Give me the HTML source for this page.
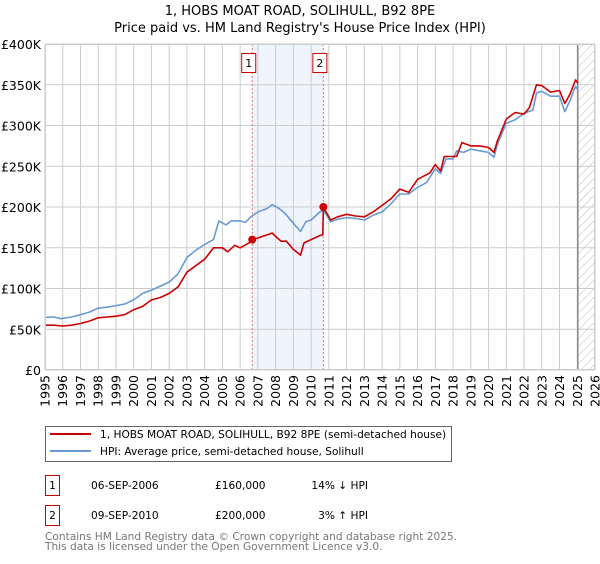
<!DOCTYPE html>
<html><head><meta charset="utf-8"><style>
body{margin:0;background:#fff;font-family:"DejaVu Sans","Liberation Sans",sans-serif;}
svg text{font-family:"DejaVu Sans","Liberation Sans",sans-serif;}
</style></head><body>
<svg id="chart" width="600" height="560" viewBox="0 0 600 560" xmlns="http://www.w3.org/2000/svg">
<defs><pattern id="hatch" width="6" height="6" patternUnits="userSpaceOnUse" patternTransform="rotate(45)"><line x1="0" y1="0" x2="0" y2="6" stroke="#bbb" stroke-width="1"/></pattern></defs>
<text x="300" y="15" text-anchor="middle" font-size="13">1, HOBS MOAT ROAD, SOLIHULL, B92 8PE</text>
<text x="300" y="32" text-anchor="middle" font-size="13">Price paid vs. HM Land Registry's House Price Index (HPI)</text>
<g id="grid"></g><g id="marks"></g><g id="axes"></g>
<rect x="45.5" y="426.5" width="406" height="35" fill="#fff" stroke="#666"/>
<line x1="50" y1="434" x2="91" y2="434" stroke="#cc0000" stroke-width="2"/>
<text x="100" y="438" font-size="10.6">1, HOBS MOAT ROAD, SOLIHULL, B92 8PE (semi-detached house)</text>
<line x1="50" y1="451" x2="91" y2="451" stroke="#6a9ad4" stroke-width="2"/>
<text x="100" y="455" font-size="10.6">HPI: Average price, semi-detached house, Solihull</text>
<g font-size="10.6">
<rect x="45.5" y="475.5" width="14" height="20" fill="#fff" stroke="#cc0000"/><text x="52.5" y="489" text-anchor="middle">1</text>
<text x="91" y="489">06-SEP-2006</text><text x="215" y="489">£160,000</text><text x="368" y="489" text-anchor="end">14% ↓ HPI</text></g>
<g font-size="10.6">
<rect x="45.5" y="505.5" width="14" height="20" fill="#fff" stroke="#cc0000"/><text x="52.5" y="519" text-anchor="middle">2</text>
<text x="91" y="519">09-SEP-2010</text><text x="215" y="519">£200,000</text><text x="368" y="519" text-anchor="end">3% ↑ HPI</text></g>
<text x="45" y="540" font-size="10.6" fill="#777">Contains HM Land Registry data © Crown copyright and database right 2025.</text>
<text x="45" y="550" font-size="10.6" fill="#777">This data is licensed under the Open Government Licence v3.0.</text>
</svg>
<script>
const hpiYears=[1995,1995.5,1995.9,1996.5,1997,1997.5,1998,1998.5,1999,1999.5,2000,2000.5,2001,2001.5,2002,2002.5,2003,2003.5,2004,2004.5,2004.8,2005.2,2005.5,2006,2006.3,2006.6,2007,2007.5,2007.8,2008.2,2008.5,2009,2009.4,2009.7,2010,2010.5,2010.7,2011.1,2011.5,2012,2012.5,2013,2013.5,2014,2014.5,2015,2015.5,2016,2016.5,2017,2017.3,2017.6,2018,2018.2,2018.6,2019,2019.5,2020,2020.3,2020.5,2021,2021.5,2022,2022.5,2022.7,2023,2023.5,2024,2024.3,2024.6,2024.9,2025.03];
const hpiValues=[64.6,65,63,65,68,71,76,77,79,81,86,94,98,103,108,118,138,147,154,160,183,178,183,183,181,188,194,198,203,198,193,180,170,182,184,194,196,182,185,187,186,184,190,194,204,216,216,224,230,247,241,259,259,269,267,271,269,267,261,277,303,307,315,319,340,342,336,336,317,331,348,344];
const priceYears=[1995,1995.5,1996,1996.5,1997,1997.5,1998,1998.5,1999,1999.5,2000,2000.5,2001,2001.5,2002,2002.5,2003,2003.5,2004,2004.5,2005,2005.3,2005.7,2006,2006.5,2006.68,2007,2007.8,2008.3,2008.6,2009,2009.4,2009.6,2010,2010.5,2010.66,2010.69,2011.1,2011.5,2012,2012.5,2013,2013.5,2014,2014.5,2015,2015.5,2016,2016.7,2017,2017.3,2017.5,2018.2,2018.5,2019,2019.5,2020,2020.3,2020.5,2021,2021.5,2022,2022.3,2022.7,2023,2023.5,2024,2024.3,2024.6,2024.9,2025.03];
const priceValues=[55,55,54,55,57,60,64,65,66,68,74,78,86,89,94,102,120,128,136,150,150,145,153,150,156,160,162,168,158,158,148,141,156,160,165,166,200,184,188,191,189,188,194,202,210,222,218,234,242,252,244,262,262,279,275,275,273,267,281,308,316,314,322,350,349,341,343,327,339,356,352];
const saleYears=[2006.68,2010.69];
const saleValues=[160,200];
const saleLabels=["1","2"];
const yTicks=[0,50,100,150,200,250,300,350,400];
const yTickLabels=["£0","£50K","£100K","£150K","£200K","£250K","£300K","£350K","£400K"];
const xTicks=[1995,1996,1997,1998,1999,2000,2001,2002,2003,2004,2005,2006,2007,2008,2009,2010,2011,2012,2013,2014,2015,2016,2017,2018,2019,2020,2021,2022,2023,2024,2025,2026];
const dataEnd=2025.03;

const X0=45,X1=595,Y0=370,Y1=44,XMIN=1995,XMAX=2026,YMAX=400;
const xs=v=>X0+(v-XMIN)/(XMAX-XMIN)*(X1-X0);
const ys=v=>Y0-v/YMAX*(Y0-Y1);
const NS="http://www.w3.org/2000/svg";
function mk(tag,attrs,parent){const e=document.createElementNS(NS,tag);for(const k in attrs)e.setAttribute(k,attrs[k]);parent.appendChild(e);return e;}
const grid=document.getElementById('grid'),marks=document.getElementById('marks'),axes=document.getElementById('axes');
mk('rect',{x:X0,y:Y1,width:X1-X0,height:Y0-Y1,fill:'#fff'},grid);
let sh=mk('rect',{x:xs(saleYears[0]),y:Y1,width:xs(saleYears[1])-xs(saleYears[0]),height:Y0-Y1,fill:'#f0f4fc'},grid);


let ht=mk('rect',{x:xs(dataEnd),y:Y1,width:X1-xs(dataEnd),height:Y0-Y1,fill:'url(#hatch)'},grid);


yTicks.forEach((t,i)=>{
  mk('line',{x1:X0,x2:X1,y1:ys(t),y2:ys(t),stroke:'#ccc'},grid);
  const tx=mk('text',{x:X0-4,y:ys(t)+5,'text-anchor':'end','font-size':'12.5'},axes);
  tx.textContent=yTickLabels[i];
  
  
});
xTicks.forEach(t=>{
  mk('line',{x1:xs(t),x2:xs(t),y1:Y1,y2:Y0,stroke:'#ccc'},grid);
  const tx=mk('text',{x:0,y:0,'text-anchor':'end','font-size':'12.5',transform:`translate(${xs(t)+4.5},375) rotate(-90)`},axes);
  tx.textContent=t;
  
  
});
let el=mk('line',{x1:xs(dataEnd),x2:xs(dataEnd),y1:Y1,y2:Y0,stroke:'#888','stroke-width':1.5},grid);


function path(xa,va,color,name){
  const d=xa.map((x,i)=>(i?'L':'M')+xs(x).toFixed(1)+','+ys(va[i]).toFixed(1)).join('');
  const p=mk('path',{d:d,fill:'none',stroke:color,'stroke-width':1.6,'stroke-linejoin':'round'},marks);
  
  
}
path(hpiYears,hpiValues,'#6a9ad4','hpi-line');
path(priceYears,priceValues,'#cc0000','price-paid-line');
saleYears.forEach((y,i)=>{
  const l=mk('line',{x1:xs(y),x2:xs(y),y1:Y1,y2:Y0,stroke:'#f07070','stroke-dasharray':'2,2'},grid);
  
  
  const c=mk('circle',{cx:xs(y),cy:ys(saleValues[i]),r:4,fill:'#cc0000'},marks);
  
  
  const b=mk('rect',{x:xs(y)-10.5,y:53.5,width:14,height:19,fill:'#fff',stroke:'#cc0000'},marks);
  
  
  const t=mk('text',{x:xs(y)-3.5,y:67,'text-anchor':'middle','font-size':'11'},marks);
  t.textContent=saleLabels[i];
  
  
});
mk('rect',{x:X0+0.5,y:Y1+0.5,width:X1-X0-1,height:Y0-Y1-1,fill:'none',stroke:'#ccc'},axes);
</script>
</body></html>
